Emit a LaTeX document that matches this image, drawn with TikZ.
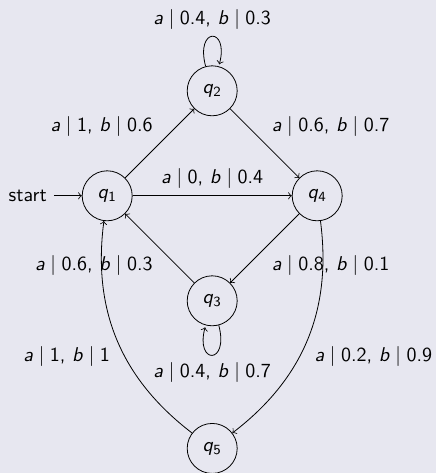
\documentclass[tikz,border=0pt]{standalone}
\usetikzlibrary{arrows,positioning}
\definecolor{slidebg}{RGB}{231,231,240}
\tikzstyle{state}=[circle, draw, inner sep=0pt, minimum size=25pt]
\newcommand{\state}{\node[state]}
\newcommand{\qs}[1]{\textit{q}\textsubscript{#1}}
\newcommand{\prob}[2]{\textit{a}${}\mid{}$#1, \textit{b}${}\mid{}$#2}

\begin{document}
\begin{tikzpicture}[x=52.5pt, y=52.5pt, font=\sffamily
    ,every edge/.style={draw, ->}
]
\fill[slidebg] (-53.6pt,-138.6pt) rectangle (164.4pt,97.9pt);
\useasboundingbox (-53.6pt,-138.6pt) rectangle (164.4pt,97.9pt);
\state (q1) at (0,0) {\qs{1}};
\state (q2) at (1,1) {\qs{2}};
\state (q3) at (1,-1) {\qs{3}};
\state (q4) at (2,0) {\qs{4}};
\state (q5) at (1,-2.406) {\qs{5}};
\node (start) [left=14pt of q1] {start};
\path
(start) edge (q1)
(q1) edge node[above left] {\prob{1}{0.6}} (q2)
     edge node[above] {\prob{0}{0.4}} (q4)
(q2) edge [loop above] node[above] {\prob{0.4}{0.3}} ()
     edge node[above right] {\prob{0.6}{0.7}} (q4)
(q3) edge node[below left] {\prob{0.6}{0.3}} (q1)
     edge [loop below] node[below] {\prob{0.4}{0.7}} ()
(q4) edge node[below right] {\prob{0.8}{0.1}} (q3)
     edge [bend left=30] node[below right] {\prob{0.2}{0.9}} (q5)
(q5) edge [bend left=30] node[below left] {\prob{1}{1}} (q1)
;
\end{tikzpicture}
\end{document}
